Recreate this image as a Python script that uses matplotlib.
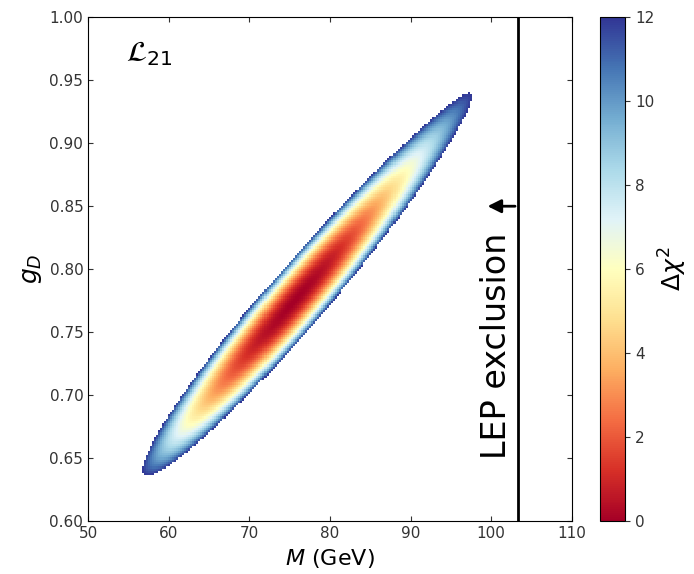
import numpy as np
import matplotlib
matplotlib.use("Agg")
import matplotlib.pyplot as plt

# shape of the chi^2 valley
M_best = 75.6           # GeV
g_best = 0.775
valley_slope = 0.0076   # dg/dM along the valley
width_low = 5.28        # GeV, along the valley below the best fit
width_high = 5.1        # GeV, above the best fit
soften_high = 0.028     # valley flattens towards large M
width_across = 1.40     # GeV, across the valley
chi2_max = 12.0

# scan grid
M_scan = np.arange(56.0, 98.01, 0.25)
g_scan = np.arange(0.630, 0.9401, 0.0018)

LEP_mass = 103.3
arrow_g = 0.85
arrow_tip = 99.2

xticks = [50, 60, 70, 80, 90, 100, 110]
yticks = [0.60, 0.65, 0.70, 0.75, 0.80, 0.85, 0.90, 0.95, 1.00]
cbar_ticks = [0, 2, 4, 6, 8, 10, 12]

MM, GG = np.meshgrid(M_scan, g_scan)
t = (GG - g_best) / valley_slope
w = (MM - M_best) - t
s = np.where(t < 0, t / width_low, t / width_high)
along = np.where(t < 0, s**2, s**2 / (1 + soften_high * s**2))
dchi2 = along + (w / width_across)**2
dchi2 = np.ma.masked_greater(dchi2, chi2_max)

fig = plt.figure(figsize=(6.94, 5.74), dpi=100)
ax = fig.add_axes([0.127, 0.092, 0.697, 0.878])
pc = ax.pcolormesh(M_scan, g_scan, dchi2, cmap='RdYlBu', vmin=0, vmax=chi2_max,
                   shading='nearest')

ax.axvline(LEP_mass, color='k', lw=2)
ax.annotate('', xy=(arrow_tip, arrow_g), xytext=(LEP_mass, arrow_g),
            arrowprops=dict(arrowstyle='-|>', color='k', lw=2, mutation_scale=20))
ax.text(100.7, 0.739, 'LEP exclusion', rotation=90, fontsize=24,
        ha='center', va='center')
ax.text(57.6, 0.971, r'$\mathcal{L}_{21}$', fontsize=21, ha='center', va='center')

ax.set_xlim(50, 110)
ax.set_ylim(0.6, 1.0)
ax.set_xticks(xticks)
ax.set_yticks(yticks)
ax.set_yticklabels([f'{v:.2f}' for v in yticks])
ax.tick_params(direction='in', top=True, right=True, labelsize=11, colors='#333333')
ax.set_xlabel(r'$M$ (GeV)', fontsize=16)
ax.set_ylabel(r'$g_D$', fontsize=18)

cax = fig.add_axes([0.865, 0.092, 0.036, 0.878])
cb = fig.colorbar(pc, cax=cax, ticks=cbar_ticks)
cb.ax.tick_params(labelsize=11, colors='#333333')
cb.set_label(r'$\Delta\chi^2$', fontsize=18, labelpad=2)

fig.savefig('out.png', dpi=100)
